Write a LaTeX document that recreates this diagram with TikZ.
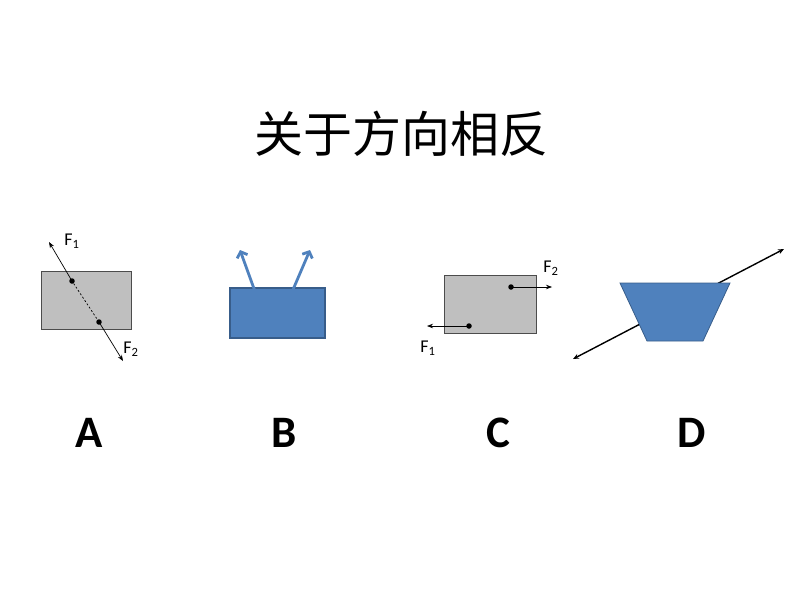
\documentclass[tikz,border=0pt]{standalone}
\usepackage{fontspec}
\setmainfont{Carlito}
\newfontfamily\cjk{Noto Sans CJK SC}
\usetikzlibrary{arrows.meta}
\definecolor{boxgray}{HTML}{BFBFBF}
\definecolor{boxblue}{HTML}{4F81BD}
\definecolor{boxblueline}{HTML}{385D8A}
\begin{document}
\begin{tikzpicture}[x=1pt,y=-1pt,
        graybox/.style={rectangle,draw=black!70,fill=boxgray,line width=0.8pt,inner sep=0pt},
        bluebox/.style={rectangle,draw=boxblueline,fill=boxblue,line width=1.2pt,inner sep=0pt},
        dot/.style={circle,fill=black,inner sep=0pt,minimum size=5.5pt},
        force/.style={-{Stealth[length=6pt,width=4.5pt]},line width=0.7pt},
        pull/.style={-{Straight Barb[length=5pt,width=11pt]},draw=boxblue,line width=2.8pt},
        push/.style={{Stealth[length=6pt,width=5pt]}-{Stealth[length=6pt,width=5pt]},line width=1.4pt},
        flabel/.style={font=\fontsize{18}{18}\selectfont,inner sep=0pt},
        letter/.style={font=\fontsize{45}{45}\selectfont\bfseries,anchor=base,inner sep=0pt}]
    \useasboundingbox (0,0) rectangle (800,600);
    % title
    \node[font=\cjk\fontsize{49}{49}\selectfont,inner sep=0pt] (title) at (401,134) {关于方向相反};
    % A
    \node[graybox,minimum width=90pt,minimum height=58pt] (boxA) at (86,300) {};
    \node[dot] (a1) at (72,281) {};
    \node[dot] (a2) at (99,322) {};
    \coordinate (a1tip) at (49,242);
    \coordinate (a2tip) at (123,361);
    \draw[line width=0.7pt,dash pattern=on 2pt off 2pt] (a1) -- (a2);
    \draw[force] (a1.center) -- (a1tip);
    \draw[force] (a2.center) -- (a2tip);
    \node[flabel] (fa1) at (72,241) {F\textsubscript{1}};
    \node[flabel] (fa2) at (131,349) {F\textsubscript{2}};
    \node[letter] (labA) at (89,447) {A};
    % B
    \node[bluebox,minimum width=95pt,minimum height=50pt] (boxB) at (277.5,313) {};
    \coordinate (b1) at (257,297);
    \coordinate (b2) at (292,292);
    \coordinate (b1tip) at (240,250);
    \coordinate (b2tip) at (310,250);
    \draw[pull] (b1) -- (b1tip);
    \draw[pull] (b2) -- (b2tip);
    \node[letter] (labB) at (284,447) {B};
    % C
    \node[graybox,minimum width=92pt,minimum height=58pt] (boxC) at (490,304) {};
    \node[dot] (c2) at (511,287) {};
    \node[dot] (c1) at (469,326) {};
    \coordinate (c2tip) at (552,287);
    \coordinate (c1tip) at (427,326);
    \draw[force] (c2.center) -- (c2tip);
    \draw[force] (c1.center) -- (c1tip);
    \node[flabel] (fc2) at (551,268) {F\textsubscript{2}};
    \node[flabel] (fc1) at (428,348) {F\textsubscript{1}};
    \node[letter] (labC) at (498,447) {C};
    % D
    \coordinate (dtip1) at (573,359);
    \coordinate (dtip2) at (784,249);
    \draw[push] (dtip1) -- (dtip2);
    \draw[fill=boxblue,draw=boxblueline,line width=0.8pt] (620,283) -- (730,283) -- (703,341) -- (647,341) -- cycle;
    \node[letter] (labD) at (692,447) {D};
\end{tikzpicture}
\end{document}
